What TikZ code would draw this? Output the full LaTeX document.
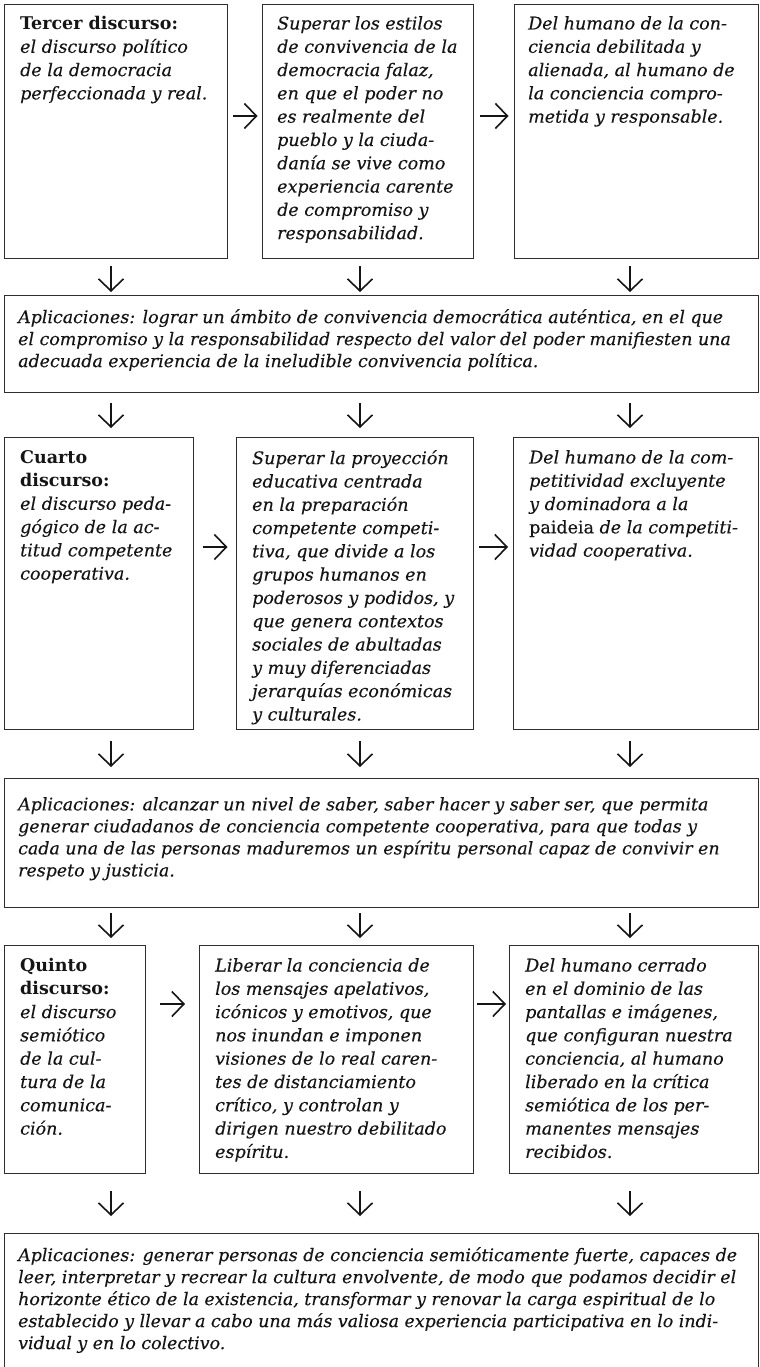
\documentclass[tikz,border=0pt]{standalone}
\usepackage{fontspec}
\setmainfont{DejaVu Serif}[UprightFeatures={FakeBold=0.25},ItalicFeatures={FakeBold=0.25}]
\usetikzlibrary{arrows.meta}
\definecolor{ink}{HTML}{151515}
\definecolor{rulec}{HTML}{2E2E2E}
\newcommand\headtxt[1]{{\bfseries\upshape #1}}
\begin{document}
\begin{tikzpicture}[x=1bp,y=-1bp,
  box/.style={draw=rulec, line width=1.3bp, anchor=north west, inner sep=0pt},
  rowtxt/.style={anchor=north west, inner sep=0pt, align=left, text=ink,
    font=\fontsize{17.5bp}{23.3bp}\selectfont\itshape, execute at begin node=\strut},
  apptxt/.style={anchor=north west, inner sep=0pt, align=left, text=ink,
    font=\fontsize{17.4bp}{22bp}\selectfont\itshape, execute at begin node=\strut},
  arr/.style={draw=ink, line width=1.6bp, -{Straight Barb[length=12bp,width=25bp]}},
]
\useasboundingbox (0,0) rectangle (759,1367);
\clip (0,0) rectangle (759,1367);

% column coordinates for the down arrows
\coordinate (c1) at (111,0);
\coordinate (c2) at (360,0);
\coordinate (c3) at (630,0);
% rows of the right arrows
\coordinate (r1) at (0,116);
\coordinate (r2) at (0,547);
\coordinate (r3) at (0,1004);

% ---------- row 1
\node[box, minimum width=223bp, minimum height=254bp] (A1) at (4,4) {};
\node[box, minimum width=211bp, minimum height=254bp] (B1) at (262,4) {};
\node[box, minimum width=244bp, minimum height=254bp] (C1) at (514,4) {};
\node[rowtxt] (A1t) at ([shift={(16,12)}]A1.north west)
  {\headtxt{Tercer discurso:}\\el discurso político\\de la democracia\\perfeccionada y real.};
\node[rowtxt] (B1t) at ([shift={(15,12)}]B1.north west)
  {Superar los estilos\\de convivencia de la\\democracia falaz,\\en que el poder no\\es realmente del\\pueblo y la ciuda-\\danía se vive como\\experiencia carente\\de compromiso y\\responsabilidad.};
\node[rowtxt] (C1t) at ([shift={(14,12)}]C1.north west)
  {Del humano de la con-\\ciencia debilitada y\\alienada, al humano de\\la conciencia compro-\\metida y responsable.};

% ---------- applications 1
\node[box, minimum width=754bp, minimum height=97bp] (P1) at (4,295) {};
\node[apptxt] (P1t) at ([shift={(14,14)}]P1.north west)
  {Aplicaciones: lograr un ámbito de convivencia democrática auténtica, en el que\\el compromiso y la responsabilidad respecto del valor del poder manifiesten una\\adecuada experiencia de la ineludible convivencia política.};

% ---------- row 2
\node[box, minimum width=189bp, minimum height=292bp] (A2) at (4,437) {};
\node[box, minimum width=237bp, minimum height=292bp] (B2) at (236,437) {};
\node[box, minimum width=245bp, minimum height=292bp] (C2) at (513,437) {};
\node[rowtxt] (A2t) at ([shift={(16,13)}]A2.north west)
  {\headtxt{Cuarto}\\\headtxt{discurso:}\\el discurso peda-\\gógico de la ac-\\titud competente\\cooperativa.};
\node[rowtxt] (B2t) at ([shift={(16,13)}]B2.north west)
  {Superar la proyección\\educativa centrada\\en la preparación\\competente competi-\\tiva, que divide a los\\grupos humanos en\\poderosos y podidos, y\\que genera contextos\\sociales de abultadas\\y muy diferenciadas\\jerarquías económicas\\y culturales.};
\node[rowtxt] (C2t) at ([shift={(16,13)}]C2.north west)
  {Del humano de la com-\\petitividad excluyente\\y dominadora a la\\{\upshape paideia} de la competiti-\\vidad cooperativa.};

% ---------- applications 2
\node[box, minimum width=754bp, minimum height=129bp] (P2) at (4,778) {};
\node[apptxt] (P2t) at ([shift={(14,19)}]P2.north west)
  {Aplicaciones: alcanzar un nivel de saber, saber hacer y saber ser, que permita\\generar ciudadanos de conciencia competente cooperativa, para que todas y\\cada una de las personas maduremos un espíritu personal capaz de convivir en\\respeto y justicia.};

% ---------- row 3
\node[box, minimum width=141bp, minimum height=228bp] (A3) at (4,945) {};
\node[box, minimum width=274bp, minimum height=228bp] (B3) at (199,945) {};
\node[box, minimum width=249bp, minimum height=228bp] (C3) at (509,945) {};
\node[rowtxt] (A3t) at ([shift={(16,13)}]A3.north west)
  {\headtxt{Quinto}\\\headtxt{discurso:}\\el discurso\\semiótico\\de la cul-\\tura de la\\comunica-\\ción.};
\node[rowtxt] (B3t) at ([shift={(16,13)}]B3.north west)
  {Liberar la conciencia de\\los mensajes apelativos,\\icónicos y emotivos, que\\nos inundan e imponen\\visiones de lo real caren-\\tes de distanciamiento\\crítico, y controlan y\\dirigen nuestro debilitado\\espíritu.};
\node[rowtxt] (C3t) at ([shift={(16,13)}]C3.north west)
  {Del humano cerrado\\en el dominio de las\\pantallas e imágenes,\\que configuran nuestra\\conciencia, al humano\\liberado en la crítica\\semiótica de los per-\\manentes mensajes\\recibidos.};

% ---------- applications 3 (runs past the lower edge)
\node[box, minimum width=754bp, minimum height=160bp] (P3) at (4,1233) {};
\node[apptxt] (P3t) at ([shift={(14,14)}]P3.north west)
  {Aplicaciones: generar personas de conciencia semióticamente fuerte, capaces de\\leer, interpretar y recrear la cultura envolvente, de modo que podamos decidir el\\horizonte ético de la existencia, transformar y renovar la carga espiritual de lo\\establecido y llevar a cabo una más valiosa experiencia participativa en lo indi-\\vidual y en lo colectivo.};

% ---------- right arrows
\draw[arr, shorten <=4.5bp, shorten >=4.5bp] (A1.east |- r1) -- (B1.west |- r1);
\draw[arr, shorten <=5.5bp, shorten >=5.5bp] (B1.east |- r1) -- (C1.west |- r1);
\draw[arr, shorten <=8.5bp, shorten >=8.5bp] (A2.east |- r2) -- (B2.west |- r2);
\draw[arr, shorten <=5bp, shorten >=5bp] (B2.east |- r2) -- (C2.west |- r2);
\draw[arr, shorten <=14bp, shorten >=14bp] (A3.east |- r3) -- (B3.west |- r3);
\draw[arr, shorten <=3bp, shorten >=3bp] (B3.east |- r3) -- (C3.west |- r3);

% ---------- down arrows
\foreach \a/\c in {A1/c1,B1/c2,C1/c3}
  \draw[arr, shorten <=7bp, shorten >=3bp] (\a.south -| \c) -- (P1.north -| \c);
\foreach \b/\c in {A2/c1,B2/c2,C2/c3}
  \draw[arr, shorten <=10bp, shorten >=9bp] (P1.south -| \c) -- (\b.north -| \c);
\foreach \a/\c in {A2/c1,B2/c2,C2/c3}
  \draw[arr, shorten <=11bp, shorten >=11bp] (\a.south -| \c) -- (P2.north -| \c);
\foreach \b/\c in {A3/c1,B3/c2,C3/c3}
  \draw[arr, shorten <=5bp, shorten >=7bp] (P2.south -| \c) -- (\b.north -| \c);
\foreach \a/\c in {A3/c1,B3/c2,C3/c3}
  \draw[arr, shorten <=17bp, shorten >=17bp] (\a.south -| \c) -- (P3.north -| \c);
\end{tikzpicture}
\end{document}
